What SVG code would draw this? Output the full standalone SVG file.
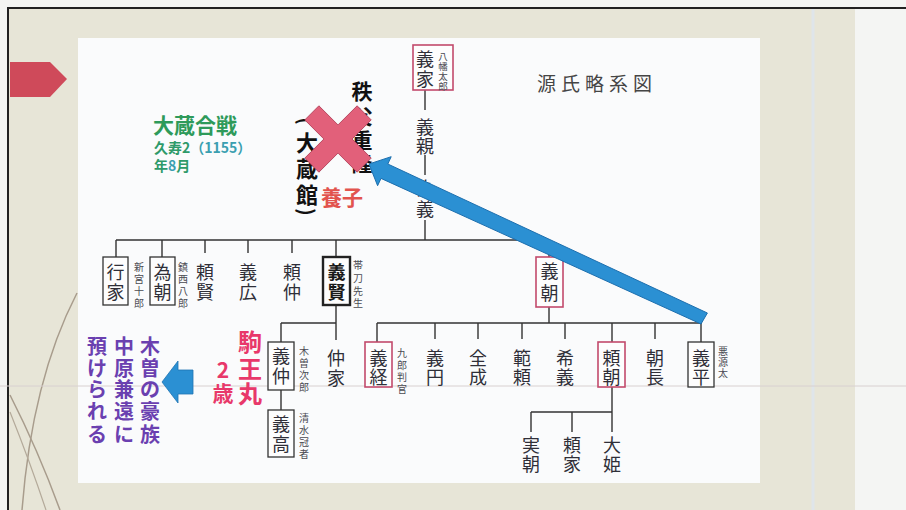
<svg xmlns="http://www.w3.org/2000/svg" width="906" height="510" viewBox="0 0 906 510">
<style>
text{font-family:"Noto Sans CJK JP","Noto Sans",sans-serif;}
.nm{font-size:18px;fill:#2f2f38;text-anchor:middle;dominant-baseline:central;}
.sm{font-size:10px;fill:#4a4a52;text-anchor:middle;dominant-baseline:central;}
.bx{fill:#fdfdfd;stroke:#333;stroke-width:1.3;}
.rb{fill:#fdfdfd;stroke:#c24a6c;stroke-width:1.6;}
.ln{fill:none;stroke:#333;stroke-width:1.4;}
.big{text-anchor:middle;dominant-baseline:central;font-weight:bold;}
.pu{font-size:20px;fill:#6a40b0;}
</style>
<g id="background">
<rect width="906" height="510" fill="#f4f5f3"/>
<rect x="8" y="8" width="847" height="502" fill="#e7e5d7"/>
<line x1="813" y1="8" x2="813" y2="510" stroke="#dfe5ea" stroke-width="3"/>
<rect x="78" y="38" width="682" height="445" fill="#fafbfc"/>
<path d="M8,510 V8 H906" fill="none" stroke="#222" stroke-width="2"/>
<polygon points="10,62 50,62 67,79 50,97 10,97" fill="#cf4a5a"/>
<path d="M77,293 Q32,380 22,510" fill="none" stroke="#a89c8c" stroke-width="1.5"/>
<path d="M10,395 Q38,450 60,510" fill="none" stroke="#a89c8c" stroke-width="1.5"/>
<path d="M10,412 Q30,462 46,510" fill="none" stroke="#b4aa9a" stroke-width="1.2"/>
<line x1="0" y1="386" x2="906" y2="386" stroke="#d8d0d0" stroke-width="1"/>
</g>
<g id="title">
<text x="537" y="82" style="font-size:19px;fill:#454545;letter-spacing:5px;dominant-baseline:central;">源氏略系図</text>
</g>
<g id="battle-label">
<text x="153" y="124" style="font-size:21px;font-weight:bold;fill:#2e9a5a;dominant-baseline:central;">大蔵合戦</text>
<text x="154" y="147" style="font-size:14px;font-weight:bold;fill:#2e9a6a;dominant-baseline:central;">久寿2<tspan fill="#3a9fb0">（1155）</tspan></text>
<text x="154" y="165" style="font-size:14px;font-weight:bold;fill:#2e9a6a;dominant-baseline:central;">年<tspan fill="#3a9fb0">8</tspan>月</text>
</g>
<g id="connectors">
<path class="ln" d="M425,90 V110 M425,155 V175 M425,220 V240"/>
<path class="ln" d="M116,240 H549 M116,240 V257 M162,240 V257 M205,240 V253 M248,240 V253 M292,240 V253 M336,240 V257 M549,240 V257"/>
<path class="ln" d="M336,305 V340 M281,323 H336 M281,323 V342 M281,390 V410"/>
<path class="ln" d="M549,307 V323 M377,323 H702 M377,323 V342 M435,323 V339 M478,323 V339 M522,323 V339 M565,323 V339 M612,323 V342 M655,323 V339 M701,323 V342"/>
<path class="ln" d="M612,387 V432 M531,412 H612 M531,412 V432 M572,412 V432"/>
</g>
<g id="n-yoshiie">
<rect class="rb" x="413" y="45" width="40" height="45"/>
<text class="nm"><tspan x="425" y="58">義</tspan><tspan x="425" y="78">家</tspan></text>
<text class="sm" style="font-size:9.5px"><tspan x="443" y="56">八</tspan><tspan x="443" y="66">幡</tspan><tspan x="443" y="76">太</tspan><tspan x="443" y="86">郎</tspan></text>
</g>
<g id="n-yoshichika"><text class="nm"><tspan x="425" y="126">義</tspan><tspan x="425" y="145">親</tspan></text></g>
<g id="n-tameyoshi"><text class="nm"><tspan x="425" y="187">為</tspan><tspan x="425" y="208">義</tspan></text></g>
<g id="n-yukiie">
<rect class="bx" x="103" y="257" width="25" height="48"/>
<text class="nm"><tspan x="115.5" y="271">行</tspan><tspan x="115.5" y="291">家</tspan></text>
<text class="sm"><tspan x="139" y="266">新</tspan><tspan x="139" y="278">宮</tspan><tspan x="139" y="290">十</tspan><tspan x="139" y="302">郎</tspan></text>
</g>
<g id="n-tametomo">
<rect class="bx" x="150" y="257" width="25" height="48"/>
<text class="nm"><tspan x="162.5" y="271">為</tspan><tspan x="162.5" y="291">朝</tspan></text>
<text class="sm"><tspan x="183" y="266">鎮</tspan><tspan x="183" y="278">西</tspan><tspan x="183" y="290">八</tspan><tspan x="183" y="302">郎</tspan></text>
</g>
<g id="n-yorikata"><text class="nm"><tspan x="205" y="271">頼</tspan><tspan x="205" y="291">賢</tspan></text></g>
<g id="n-yoshihiro"><text class="nm"><tspan x="248" y="271">義</tspan><tspan x="248" y="291">広</tspan></text></g>
<g id="n-yorinaka"><text class="nm"><tspan x="292" y="271">頼</tspan><tspan x="292" y="291">仲</tspan></text></g>
<g id="n-yoshikata">
<rect x="323" y="257" width="27" height="48" fill="#fdfdfd" stroke="#222" stroke-width="2.4"/>
<text class="nm" style="font-weight:bold;fill:#1a1a1a"><tspan x="336.5" y="271">義</tspan><tspan x="336.5" y="291">賢</tspan></text>
<text class="sm"><tspan x="358" y="264">帯</tspan><tspan x="358" y="277">刀</tspan><tspan x="358" y="290">先</tspan><tspan x="358" y="302">生</tspan></text>
</g>
<g id="n-yoshitomo">
<rect class="rb" x="536" y="257" width="27" height="50"/>
<text class="nm"><tspan x="549.5" y="270">義</tspan><tspan x="549.5" y="292">朝</tspan></text>
</g>
<g id="n-yoshinaka">
<rect class="bx" x="268" y="342" width="26" height="48"/>
<text class="nm"><tspan x="281" y="355">義</tspan><tspan x="281" y="375">仲</tspan></text>
<text class="sm"><tspan x="304" y="350">木</tspan><tspan x="304" y="362">曽</tspan><tspan x="304" y="374">次</tspan><tspan x="304" y="386">郎</tspan></text>
</g>
<g id="n-yoshitaka">
<rect class="bx" x="268" y="410" width="26" height="47"/>
<text class="nm"><tspan x="281" y="423">義</tspan><tspan x="281" y="443">高</tspan></text>
<text class="sm"><tspan x="304" y="417">清</tspan><tspan x="304" y="429">水</tspan><tspan x="304" y="441">冠</tspan><tspan x="304" y="453">者</tspan></text>
</g>
<g id="n-nakaie"><text class="nm"><tspan x="336" y="357">仲</tspan><tspan x="336" y="377">家</tspan></text></g>
<g id="n-yoshitsune">
<rect class="rb" x="365" y="342" width="27" height="45"/>
<text class="nm"><tspan x="378.5" y="357">義</tspan><tspan x="378.5" y="376">経</tspan></text>
<text class="sm"><tspan x="402" y="352">九</tspan><tspan x="402" y="364">郎</tspan><tspan x="402" y="376">判</tspan><tspan x="402" y="388">官</tspan></text>
</g>
<g id="n-gien"><text class="nm"><tspan x="435" y="357">義</tspan><tspan x="435" y="376">円</tspan></text></g>
<g id="n-zenjo"><text class="nm"><tspan x="478" y="357">全</tspan><tspan x="478" y="376">成</tspan></text></g>
<g id="n-noriyori"><text class="nm"><tspan x="522" y="357">範</tspan><tspan x="522" y="376">頼</tspan></text></g>
<g id="n-mareyoshi"><text class="nm"><tspan x="565" y="357">希</tspan><tspan x="565" y="376">義</tspan></text></g>
<g id="n-yoritomo">
<rect class="rb" x="598" y="342" width="27" height="45"/>
<text class="nm"><tspan x="611.5" y="357">頼</tspan><tspan x="611.5" y="376">朝</tspan></text>
</g>
<g id="n-tomonaga"><text class="nm"><tspan x="655" y="357">朝</tspan><tspan x="655" y="376">長</tspan></text></g>
<g id="n-yoshihira">
<rect class="bx" x="688" y="342" width="26" height="45"/>
<text class="nm"><tspan x="701" y="357">義</tspan><tspan x="701" y="376">平</tspan></text>
<text class="sm"><tspan x="723" y="350">悪</tspan><tspan x="723" y="361">源</tspan><tspan x="723" y="372">太</tspan></text>
</g>
<g id="n-sanetomo"><text class="nm"><tspan x="531" y="444">実</tspan><tspan x="531" y="463">朝</tspan></text></g>
<g id="n-yoriie"><text class="nm"><tspan x="572" y="444">頼</tspan><tspan x="572" y="463">家</tspan></text></g>
<g id="n-ohime"><text class="nm"><tspan x="612" y="444">大</tspan><tspan x="612" y="463">姫</tspan></text></g>
<g id="n-shigetaka">
<text class="big" style="font-size:21px;fill:#111"><tspan x="362" y="90">秩</tspan><tspan x="362" y="115">父</tspan><tspan x="362" y="139">重</tspan><tspan x="362" y="162">隆</tspan></text>
<text class="big" x="307" y="121" transform="rotate(90 307 121)" style="font-size:20px;fill:#111">(</text>
<text class="big" style="font-size:22px;fill:#111"><tspan x="307" y="141">大</tspan><tspan x="307" y="167">蔵</tspan><tspan x="307" y="193">館</tspan></text>
<text class="big" x="307" y="212" transform="rotate(90 307 212)" style="font-size:20px;fill:#111">)</text>
<polygon points="338,124.9 357.1,105.8 371.2,119.9 352.1,139 371.2,158.1 357.1,172.2 338,153.1 318.9,172.2 304.8,158.1 323.9,139 304.8,119.9 318.9,105.8" fill="#e2607a" stroke="#b84a62" stroke-width="1"/>
<text class="big" x="342" y="196" style="font-size:21px;fill:#e2544e">養子</text>
</g>
<g id="n-komaomaru">
<text class="big" style="font-size:24px;fill:#e8386a"><tspan x="250" y="340">駒</tspan><tspan x="250" y="367">王</tspan><tspan x="250" y="392">丸</tspan></text>
<text class="big" style="font-size:21px;fill:#e8386a"><tspan x="223" y="369">2</tspan><tspan x="223" y="392">歳</tspan></text>
</g>
<g id="n-note">
<text class="big pu"><tspan x="150" y="345">木</tspan><tspan x="150" y="367">曽</tspan><tspan x="150" y="388">の</tspan><tspan x="150" y="410">豪</tspan><tspan x="150" y="433">族</tspan></text>
<text class="big pu"><tspan x="124" y="345">中</tspan><tspan x="124" y="367">原</tspan><tspan x="124" y="388">兼</tspan><tspan x="124" y="410">遠</tspan><tspan x="124" y="433">に</tspan></text>
<text class="big pu"><tspan x="97" y="345">預</tspan><tspan x="97" y="367">け</tspan><tspan x="97" y="388">ら</tspan><tspan x="97" y="410">れ</tspan><tspan x="97" y="433">る</tspan></text>
</g>
<g id="arrows">
<polygon points="162,382 178,361 178,370 193,370 193,394 178,394 178,403" fill="#2b90d3" stroke="#1f74b2" stroke-width="0.8"/>
<polygon points="707.4,313 387.8,164 391.2,156.7 369,164 377.6,185.7 381,178.4 701,324" fill="#2b90d3" stroke="#1d6fae" stroke-width="1"/>
</g>
</svg>
